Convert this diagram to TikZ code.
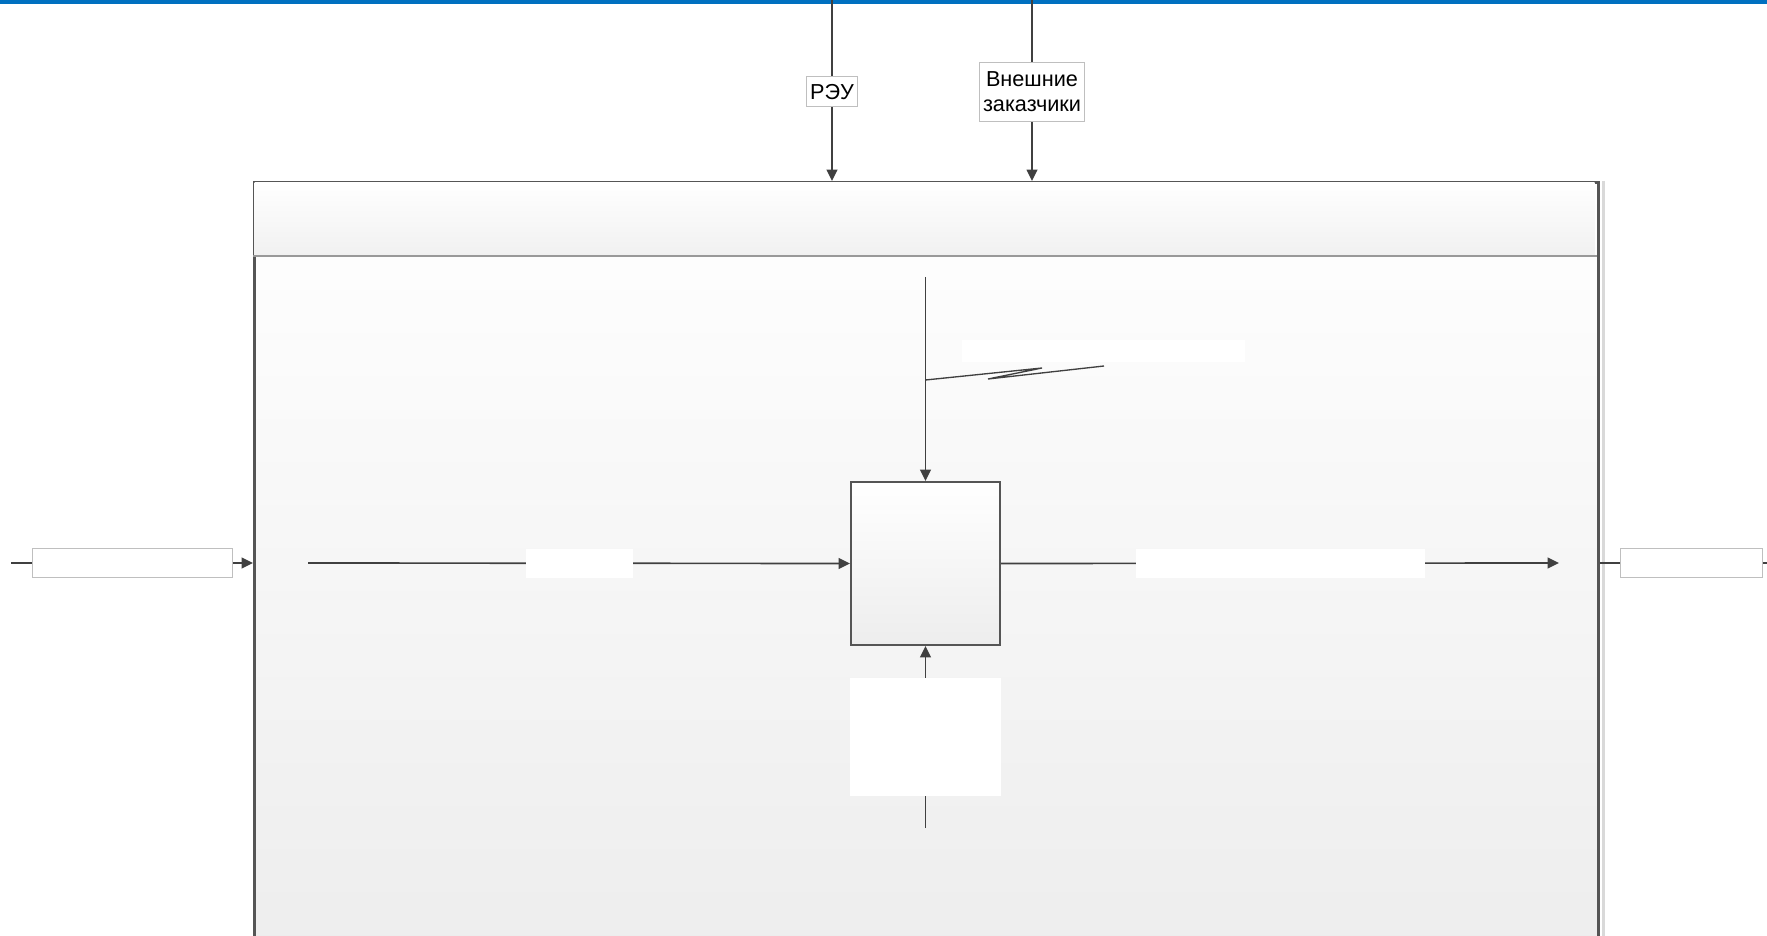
\documentclass[tikz,border=0pt]{standalone}
\usepackage{fontspec}
\setmainfont{Liberation Sans}
\usepackage{xcolor}
\usetikzlibrary{arrows.meta, positioning}

\definecolor{frameline}{HTML}{555555}
\definecolor{bandblue}{HTML}{0070C0}
\definecolor{fadegray}{HTML}{EDEDED}

\begin{document}
\begin{tikzpicture}[
        x=0.3pt, y=-0.3pt,
        frame/.style={rectangle, draw=frameline, line width=0.8pt, top color=white, bottom color=fadegray, inner sep=0pt},
        band/.style={rectangle, top color=white, bottom color=fadegray!80, inner sep=0pt},
        labelbox/.style={rectangle, draw=black!25, fill=white, line width=0.3pt, inner sep=1pt, font=\fontsize{6.5}{7.5}\selectfont, align=center},
        blank/.style={rectangle, fill=white, inner sep=0pt},
        line/.style={draw=black!75, line width=0.5pt},
        arrow/.style={line, -{Triangle[length=3.4pt, width=3.2pt]}}
    ]
        \clip (0,0) rectangle (1767,936);
        \fill[bandblue] (0,0) rectangle (1767,4);

        % outer frame and its title band
        \node[frame, anchor=north west, minimum width=403.2pt, minimum height=232pt] (frame) at (253,181) {};
        \draw[black!15, line width=0.8pt] ([xshift=1.1pt]frame.north east) -- ([xshift=1.1pt]frame.south east);
        \node[band, anchor=north west, minimum width=402pt, minimum height=22.2pt] (head) at (254,182) {};
        \draw[black!40, line width=0.5pt] (253,256) -- (1597,256);

        % function block
        \node[frame, line width=0.6pt, minimum width=44.7pt, minimum height=48.9pt] (func) at (925.5,563.5) {};

        % calls from above
        \coordinate (reuin) at (832,-5);
        \coordinate (extin) at (1032,-5);
        \draw[arrow] (reuin) -- node[labelbox, pos=0.52, minimum width=14.7pt, minimum height=9pt] (reulab) {РЭУ} (reuin |- frame.north);
        \draw[arrow] (extin) -- node[labelbox, pos=0.52, minimum width=31.5pt, minimum height=17.7pt] (extlab) {Внешние\\заказчики} (extin |- frame.north);

        % boundary input and output
        \coordinate (inl) at (11,563);
        \coordinate (outr) at (1780,563);
        \draw[arrow] (inl) -- node[labelbox, minimum width=60pt, minimum height=8.7pt] (inlab) {} (inl -| frame.west);
        \draw[line] (inl -| frame.east) -- node[labelbox, pos=0.51, minimum width=42.6pt, minimum height=8.7pt] (outlab) {} (outr);

        % inner arrows of the block
        \coordinate (inarr) at (308,563);
        \coordinate (outarr) at (1559,563);
        \coordinate (ctrl) at (925.5,277);
        \coordinate (mech) at (925.5,828);
        \draw[arrow] (inarr) -- node[blank, minimum width=32.1pt, minimum height=8.7pt] (inlab2) {} (func.west);
        \draw[arrow] (func.east) -- node[blank, minimum width=86.7pt, minimum height=8.7pt] (outlab2) {} (outarr);
        \draw[arrow] (ctrl) -- (func.north);
        \draw[arrow] (mech) -- node[blank, minimum width=45.3pt, minimum height=35.4pt] (mechlab) {} (func.south);

        % squiggle to the control label
        \node[blank, minimum width=84.9pt, minimum height=6.6pt] (ctrllab) at (1103.5,351) {};
        \coordinate (sqa) at (925.5,380);
        \coordinate (sqb) at (1042,368);
        \coordinate (sqc) at (988,379);
        \coordinate (sqd) at (1104,366);
        \draw[line, line width=0.4pt] (sqa) -- (sqb) -- (sqc) -- (sqd);
\end{tikzpicture}
\end{document}
